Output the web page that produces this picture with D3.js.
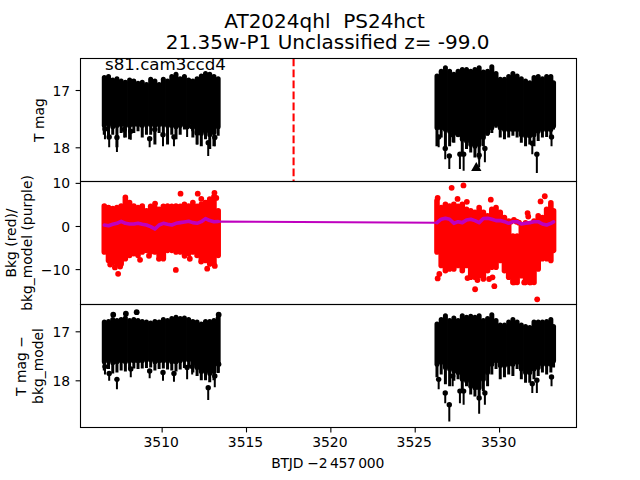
<!DOCTYPE html>
<html><head><meta charset="utf-8">
<script src="https://cdn.jsdelivr.net/npm/d3@7"></script>
<style>html,body{margin:0;padding:0;background:#fff}svg{display:block}text{font-family:"DejaVu Sans",sans-serif;fill:#000}</style>
</head><body><svg id="c" width="640" height="480"></svg>
<script>
const timeA=[3506.6,3506.85,3507.1,3507.35,3507.6,3507.85,3508.1,3508.35,3508.6,3508.85,3509.1,3509.35,3509.6,3509.85,3510.1,3510.35,3510.6,3510.85,3511.1,3511.35,3511.6,3511.85,3512.1,3512.35,3512.6,3512.85,3513.1,3513.35];
const timeB=[3526.32,3526.57,3526.82,3527.07,3527.32,3527.57,3527.82,3528.07,3528.32,3528.57,3528.82,3529.07,3529.32,3529.57,3529.82,3530.07,3530.32,3530.57,3530.82,3531.07,3531.32,3531.57,3531.82,3532.07,3532.32,3532.57,3532.82,3533.07,3533.23];

const magTopA=[16.74,16.72,16.78,16.76,16.80,16.82,16.78,16.80,16.84,16.82,16.86,16.77,16.80,16.86,16.77,16.80,16.72,16.68,16.76,16.72,16.78,16.80,16.76,16.71,16.67,16.68,16.72,16.76];
const magBodyA=[17.62,17.60,17.64,17.62,17.60,17.62,17.62,17.60,17.60,17.62,17.60,17.60,17.62,17.60,17.60,17.62,17.62,17.64,17.62,17.60,17.58,17.64,17.72,17.76,17.72,17.78,17.74,17.64];
const magFringeA=[17.78,17.86,17.78,18.0,17.75,17.83,17.86,17.75,17.72,17.83,17.78,17.78,17.95,17.75,17.80,17.95,17.78,17.86,17.78,17.69,17.66,17.83,17.95,17.98,17.86,18.03,17.98,17.80];
const magTopB=[16.71,16.63,16.57,16.63,16.68,16.63,16.60,16.60,16.63,16.60,16.57,16.64,16.63,16.55,16.67,16.77,16.77,16.72,16.67,16.71,16.76,16.80,16.83,16.74,16.72,16.76,16.72,16.72,16.83];
const magBodyB=[17.66,17.66,17.69,17.72,17.75,17.78,17.86,17.89,17.95,17.98,17.95,17.83,17.75,17.66,17.60,17.66,17.69,17.69,17.69,17.69,17.78,17.80,17.80,17.78,17.72,17.69,17.69,17.69,17.63];
const magFringeB=[17.98,17.83,18.03,17.98,17.92,17.78,18.15,18.03,18.09,18.18,18.21,17.98,17.80,17.75,17.66,17.83,17.86,17.83,17.80,17.83,17.92,17.98,17.95,17.98,17.89,17.83,17.82,17.80,17.69];
const magSpikeT=[3506.64,3506.89,3507.35,3507.78,3508.17,3509.29,3509.59,3510.08,3510.73,3511.51,3511.81,3512.1,3512.76,3513.15,3526.42,3526.81,3527.05,3527.25,3527.68,3527.9,3528.82,3529.16,3531.97,3532.24,3533.11];
const magSpikeEnd=[17.86,18.0,18.08,17.83,17.87,18.0,17.83,17.98,17.98,17.82,17.72,17.95,18.15,17.98,18.0,18.21,18.38,17.91,18.38,18.41,18.35,18.26,18.12,18.45,17.98];
const magSpikeDot=[17.68,17.82,17.83,17.69,17.72,17.85,17.69,17.78,17.82,17.64,17.64,17.75,17.92,17.83,17.82,18.02,18.15,17.78,18.12,18.12,18.14,18.02,17.93,18.12,17.82];
const limitT=[3528.65], limitMag=[18.36];
const flareT=[3517.82];

const bkgTopA=[5.3,4.9,4.7,4.9,5.3,7.3,6.1,5.3,4.9,5.3,4.2,5.2,4.9,4.5,5.2,5.3,5.2,5.3,5.2,5.7,5.3,6.1,5.2,5.7,6.1,6.9,7.5,4.2];
const bkgBotA=[-6.04,-8.0,-8.4,-8.79,-8.79,-7.61,-6.82,-6.43,-6.82,-6.04,-5.65,-6.04,-6.04,-6.82,-7.61,-5.65,-5.65,-6.04,-6.04,-6.04,-6.43,-6.04,-6.82,-7.61,-8.0,-8.79,-8.79,-6.82];
const bkgTopB=[6.5,4.9,5.7,5.3,5.7,5.2,5.7,4.5,4.2,3.8,4.9,3.8,3.0,4.5,4.9,3.8,2.6,1.8,-1.7,-1.7,1.0,1.4,1.0,1.8,3.0,2.6,4.5,6.0,4.2];
const bkgBotB=[-6.04,-9.18,-10.36,-9.96,-9.96,-9.18,-10.36,-9.18,-11.9,-11.9,-11.53,-12.3,-10.36,-9.57,-9.57,-8.0,-10.36,-11.9,-13.1,-13.1,-11.53,-13.1,-13.1,-13.1,-9.96,-7.6,-7.6,-8.0,-5.65];
const bkgDotT=[3511.12,3512.14,3513.13,3509.61,3508.72,3509.25,3509.84,3510.84,3507.42,3506.95,3507.23,3507.54,3511.36,3511.67,3512.34,3512.7,3513.15,3512.4,3513.24,3512.35,3527.19,3527.89,3529.51,3526.36,3528.58,3529.72,3532.26,3530.88,3531.49,3531.85,3528.72,3528.13,3526.36,3526.46,3531.69,3531.73,3532.71,3532.46,3528.09,3527.54,3530.88,3531.04,3530.69,3531.18,3529.41,3529.61];
const bkgDotV=[7.5,7.5,7.7,5.2,-7.85,-6.9,-7.6,-10.2,-11.1,-8.95,-9.6,-9.4,-6.9,-7.6,-8.24,-9.9,-9.26,-7.06,6.5,6.27,8.86,9.41,6.1,6.5,-14.67,-13.96,-17.02,-13.1,-13.1,-13.1,-12.55,-12.08,-12.16,-11.14,3.0,2.2,6.9,5.7,5.6,6.27,1.4,1.0,1.0,0.78,-12.3,-11.9];
const modelA=[.23,.07,.39,.62,1.09,.62,.47,.47,.62,.39,.23,-.16,-.71,.23,.62,.39,.23,.62,.78,.94,1.09,.78,.62,1.0,1.72,1.25,1.0,1.05];
const modelB=[.78,1.57,1.8,1.57,.62,1,.78,1.41,1.57,1.25,.78,1.72,1.8,1.57,1.25,1.25,1,.62,1,1,.47,.62,.78,1,1,.47,.23,.62,.94];

const diffTopA=[16.76,16.75,16.71,16.73,16.71,16.68,16.73,16.71,16.73,16.75,16.76,16.78,16.75,16.76,16.71,16.73,16.69,16.66,16.69,16.68,16.71,16.75,16.76,16.80,16.75,16.75,16.73,16.68];
const diffBodyA=[17.62,17.60,17.64,17.62,17.60,17.62,17.60,17.60,17.60,17.60,17.58,17.58,17.62,17.60,17.60,17.60,17.62,17.62,17.60,17.58,17.58,17.66,17.74,17.82,17.82,17.86,17.82,17.66];
const diffFringeA=[17.80,17.77,17.86,17.84,17.80,17.82,17.78,17.76,17.77,17.76,17.75,17.74,17.80,17.77,17.76,17.78,17.80,17.82,17.78,17.75,17.74,17.84,17.91,18.0,18.0,18.04,18.0,17.85];
const diffTopB=[16.80,16.71,16.63,16.73,16.68,16.73,16.63,16.66,16.64,16.66,16.63,16.73,16.69,16.61,16.73,16.82,16.82,16.76,16.71,16.76,16.82,16.85,16.87,16.76,16.76,16.76,16.75,16.71,16.85];
const diffBodyB=[17.67,17.63,17.74,17.77,17.81,17.84,17.98,18.01,18.12,18.15,18.15,17.98,17.84,17.67,17.60,17.70,17.70,17.67,17.67,17.63,17.77,17.84,17.84,17.77,17.74,17.67,17.67,17.67,17.60];
const diffFringeB=[17.94,17.88,18.08,18.12,18.01,17.98,18.26,18.12,18.29,18.33,18.36,18.22,18.12,17.88,17.77,17.98,17.94,17.88,17.91,17.77,17.98,18.05,18.05,17.98,17.91,17.84,17.88,17.84,17.74];
const diffSpikeT=[3506.64,3506.89,3507.35,3508.17,3509.29,3510.08,3510.73,3511.51,3511.81,3512.76,3513.15,3513.38,3526.42,3526.81,3527.05,3527.25,3527.68,3527.9,3528.82,3529.16,3531.97,3532.24,3533.11];
const diffSpikeEnd=[17.88,18.01,18.18,17.94,17.96,18.01,18.03,17.98,17.88,18.40,18.14,17.84,18.18,18.47,18.84,18.12,18.47,18.50,18.68,18.50,18.26,18.26,18.12];
const diffSpikeDot=[17.72,17.86,17.98,17.77,17.81,17.84,17.86,17.74,17.72,18.15,17.91,17.67,17.98,18.26,18.50,17.91,18.22,18.22,18.36,18.26,18.07,18.0,17.93];
const diffDotT=[3507.13,3507.88,3508.52,3513.38];
const diffDotV=[16.66,16.64,16.61,16.66];

const xTicks=[3510,3515,3520,3525,3530];
const magTicks=[17,18], bkgTicks=[10,0,-10], diffTicks=[17,18];
const titleLines=["AT2024qhl\u00a0\u00a0PS24hct","21.35w-P1 Unclassified z= -99.0"];
const xTitle="BTJD \u22122\u202f457\u202f000";

const L=80.5,R=576.5;
const x=d3.scaleLinear().domain([3505.19,3534.59]).range([L,R]);
const svg=d3.select("#c");
const panels=[
 {t:58.5,b:181.5,dom:[16.45,18.597],ticks:magTicks,col:"#000",w:5,
  tA:magTopA,bA:magBodyA,fA:magFringeA,tB:magTopB,bB:magBodyB,fB:magFringeB,sT:magSpikeT,sE:magSpikeEnd,sD:magSpikeDot,dT:[],dV:[]},
 {t:181.5,b:304.5,dom:[10.32,-18.21],ticks:bkgTicks,col:"#f00",w:5.6,
  tA:bkgTopA,bA:bkgBotA,fA:bkgBotA,tB:bkgTopB,bB:bkgBotB,fB:bkgBotB,sT:[],sE:[],sD:[],dT:bkgDotT,dV:bkgDotV},
 {t:304.5,b:427.5,dom:[16.453,18.963],ticks:diffTicks,col:"#000",w:5,
  tA:diffTopA,bA:diffBodyA,fA:diffFringeA,tB:diffTopB,bB:diffBodyB,fB:diffFringeB,sT:diffSpikeT,sE:diffSpikeEnd,sD:diffSpikeDot,dT:diffDotT,dV:diffDotV}
];
panels.forEach((p,i)=>{
  const y=d3.scaleLinear().domain(p.dom).range([p.t,p.b]);
  const cid="clip"+i;
  svg.append("clipPath").attr("id",cid).append("rect").attr("x",L).attr("y",p.t).attr("width",R-L).attr("height",p.b-p.t);
  const g=svg.append("g").attr("clip-path",`url(#${cid})`);
  const cols=[...timeA.map((t,k)=>({t,a:p.tA[k],b:p.bA[k],f:p.fA[k]})),...timeB.map((t,k)=>({t,a:p.tB[k],b:p.bB[k],f:p.fB[k]}))];
  g.selectAll("line.fr").data(cols).join("line").attr("class","fr")
    .attr("x1",d=>x(d.t)).attr("x2",d=>x(d.t)).attr("y1",d=>y(d.b)).attr("y2",d=>y(d.f))
    .attr("stroke",p.col).attr("stroke-width",3);
  g.selectAll("line.body").data(cols).join("line").attr("class","body")
    .attr("x1",d=>x(d.t)).attr("x2",d=>x(d.t))
    .attr("y1",d=>y(d.a)+p.w/2).attr("y2",d=>y(d.b))
    .attr("stroke",p.col).attr("stroke-width",p.w).attr("stroke-linecap","round");
  const sp=p.sT.map((t,k)=>({t,e:p.sE[k],d:p.sD[k]}));
  g.selectAll("line.sp").data(sp).join("line").attr("class","sp")
    .attr("x1",d=>x(d.t)).attr("x2",d=>x(d.t)).attr("y1",d=>y(d.d)).attr("y2",d=>y(d.e))
    .attr("stroke",p.col).attr("stroke-width",2);
  g.selectAll("circle.sp").data(sp).join("circle").attr("class","sp")
    .attr("cx",d=>x(d.t)).attr("cy",d=>y(d.d)).attr("r",2.7).attr("fill",p.col);
  g.selectAll("circle.dt").data(p.dT.map((t,k)=>({t,v:p.dV[k]}))).join("circle").attr("class","dt")
    .attr("cx",d=>x(d.t)).attr("cy",d=>y(d.v)).attr("r",2.9).attr("fill",p.col);
  if(i===0){
    g.selectAll("path.lim").data(limitT.map((t,k)=>({t,v:limitMag[k]}))).join("path").attr("class","lim")
      .attr("transform",d=>`translate(${x(d.t)},${y(d.v)})`)
      .attr("d",d3.symbol(d3.symbolTriangle,46)()).attr("fill","#000");
    g.selectAll("line.flare").data(flareT).join("line").attr("class","flare")
      .attr("x1",d=>x(d)).attr("x2",d=>x(d)).attr("y1",p.t).attr("y2",p.b)
      .attr("stroke","#f00").attr("stroke-width",2.1).attr("stroke-dasharray","7.7,3.3");
    svg.append("text").attr("x",105).attr("y",69.5).attr("font-size",16.67).text("s81.cam3ccd4");
  }
  if(i===1){
    const ln=d3.line().x(d=>x(d[0])).y(d=>y(d[1]));
    const mA=timeA.map((t,k)=>[t,modelA[k]]), mB=timeB.map((t,k)=>[t,modelB[k]]);
    g.append("path").attr("d",ln([...mA,...mB])).attr("fill","none").attr("stroke","#bf00bf").attr("stroke-width",2);
    [mA,mB].forEach(m=>g.append("path").attr("d",ln(m)).attr("fill","none").attr("stroke","#bf00bf").attr("stroke-width",3.6).attr("stroke-linejoin","round").attr("stroke-linecap","round"));
  }
  svg.append("rect").attr("x",L).attr("y",p.t).attr("width",R-L).attr("height",p.b-p.t)
    .attr("fill","none").attr("stroke","#000").attr("stroke-width",1.1);
  const ax=svg.append("g").attr("transform",`translate(${L},0)`)
    .call(d3.axisLeft(y).tickValues(p.ticks).tickSize(4.9).tickPadding(5.5).tickFormat(d3.format("d")));
  ax.select(".domain").remove();
  ax.selectAll("text").attr("font-size",13.9).style("font-family",'"DejaVu Sans"').attr("dy","0.36em");
  ax.selectAll("line").attr("stroke","#000").attr("stroke-width",1.1);
  if(i===2){
    const bx=svg.append("g").attr("transform",`translate(0,${p.b})`)
      .call(d3.axisBottom(x).tickValues(xTicks).tickSize(4.9).tickPadding(4.9).tickFormat(d3.format("d")));
    bx.select(".domain").remove();
    bx.selectAll("text").attr("font-size",13.9).attr("dx",-1).style("font-family",'"DejaVu Sans"');
    bx.selectAll("line").attr("stroke","#000").attr("stroke-width",1.1);
  }
});
const titleX=[324.6,327.6];
const title=svg.append("text").attr("text-anchor","middle").attr("font-size",20);
titleLines.forEach((s,k)=>title.append("tspan").attr("x",titleX[k]).attr("y",27.5+k*21).text(s));
svg.append("text").attr("x",327.8).attr("y",468).attr("text-anchor","middle").attr("font-size",13.9).attr("textLength",113).text(xTitle);
function yLabel(lines,xs,cy){lines.forEach((s,k)=>svg.append("text").attr("transform",`translate(${xs[k]},${cy}) rotate(-90)`).attr("text-anchor","middle").attr("font-size",13.9).text(s));}
yLabel(["T mag"],[43.5],120);
yLabel(["Bkg (red)/","bkg_model (purple)"],[15.7,31.5],243);
yLabel(["T mag \u2212","bkg_model"],[26,42.5],366);
</script></body></html>
